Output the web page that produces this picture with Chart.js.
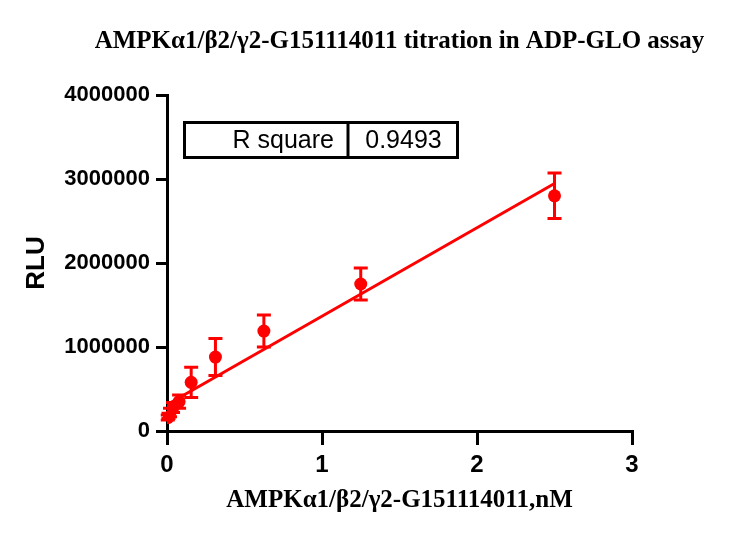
<!DOCTYPE html>
<html>
<head>
<meta charset="utf-8">
<script src="https://cdn.jsdelivr.net/npm/chart.js@4.4.0/dist/chart.umd.min.js"></script>
<style>
  html, body { margin: 0; padding: 0; background: #fff; }
  #wrap { width: 732px; height: 547px; }
</style>
</head>
<body>
<div id="wrap"><canvas id="chart"></canvas></div>
<script>
// concentration (nM), mean RLU and SD
let conc = [2.5, 1.25, 0.625, 0.3125, 0.156, 0.078, 0.039, 0.0195, 0.0098, 0.0049]
let rlu = [2800000, 1750000, 1190000, 880000, 580000, 350000, 280000, 220000, 180000, 160000]
let sd = [270000, 190000, 190000, 220000, 180000, 80000, 60000, 50000, 30000, 30000]

let xTicks = [0, 1, 2, 3]
let yTicks = [0, 1000000, 2000000, 3000000, 4000000]
let rSquare = "0.9493"
let titleText = "AMPKα1/β2/γ2-G151114011 titration in ADP-GLO assay"

let red = "#ff0000"

// simple least squares fit for the line
function linFit(xs, ys) {
    let n = xs.length
    let mx = xs.reduce((a, b) => a + b, 0) / n
    let my = ys.reduce((a, b) => a + b, 0) / n
    let sxy = 0, sxx = 0
    for (let i = 0; i < n; i++) {
        sxy += (xs[i] - mx) * (ys[i] - my)
        sxx += (xs[i] - mx) * (xs[i] - mx)
    }
    let slope = sxy / sxx
    return { slope: slope, icpt: my - slope * mx }
}

let fit = linFit(conc, rlu)
let xMin = Math.min(...conc)
let xMax = Math.max(...conc)
let fitLine = [
    { x: xMin, y: fit.icpt + fit.slope * xMin },
    { x: xMax, y: fit.icpt + fit.slope * xMax }
]

let points = conc.map((c, i) => ({ x: c, y: rlu[i] }))

let errorBars = {
    id: "errorBars",
    afterDatasetsDraw(chart) {
        let ctx = chart.ctx
        let xs = chart.scales.x
        let ys = chart.scales.y
        ctx.save()
        ctx.strokeStyle = red
        ctx.lineWidth = 3
        for (let i = 0; i < conc.length; i++) {
            let px = xs.getPixelForValue(conc[i])
            let top = ys.getPixelForValue(rlu[i] + sd[i])
            let bot = ys.getPixelForValue(rlu[i] - sd[i])
            ctx.beginPath()
            ctx.moveTo(px, top)
            ctx.lineTo(px, bot)
            ctx.moveTo(px - 7, top)
            ctx.lineTo(px + 7, top)
            ctx.moveTo(px - 7, bot)
            ctx.lineTo(px + 7, bot)
            ctx.stroke()
        }
        ctx.restore()
    }
}

// title drawn by hand so it is not squeezed to the plot width
let topTitle = {
    id: "topTitle",
    afterDraw(chart) {
        let ctx = chart.ctx
        let a = chart.chartArea
        ctx.save()
        ctx.fillStyle = "#000"
        ctx.font = "bold 25px 'Liberation Serif', 'Times New Roman', serif"
        ctx.textAlign = "center"
        ctx.textBaseline = "middle"
        ctx.fillText(titleText, (a.left + a.right) / 2, 42)
        ctx.restore()
    }
}

let rBox = {
    id: "rBox",
    afterDraw(chart) {
        let ctx = chart.ctx
        let a = chart.chartArea
        let left = a.left + 16
        let top = a.top + 26
        let w = 276, h = 38, split = 165
        ctx.save()
        ctx.strokeStyle = "#000"
        ctx.lineWidth = 3
        ctx.strokeRect(left + 1.5, top + 1.5, w - 3, h - 3)
        ctx.beginPath()
        ctx.moveTo(left + split, top)
        ctx.lineTo(left + split, top + h)
        ctx.stroke()
        ctx.fillStyle = "#000"
        ctx.font = "25px 'Liberation Sans', Arial, sans-serif"
        ctx.textBaseline = "middle"
        ctx.textAlign = "right"
        ctx.fillText("R square", left + split - 14, top + h / 2 + 1)
        ctx.textAlign = "center"
        ctx.fillText(rSquare, left + split + (w - split) / 2, top + h / 2 + 1)
        ctx.restore()
    }
}

let chart = new Chart(document.getElementById("chart"), {
    type: "scatter",
    data: {
        datasets: [{
            data: points,
            backgroundColor: red,
            borderWidth: 0,
            pointRadius: 6.5,
            pointHoverRadius: 6.5
        }, {
            type: "line",
            data: fitLine,
            borderColor: red,
            borderWidth: 3,
            pointRadius: 0,
            fill: false
        }]
    },
    options: {
        responsive: true,
        maintainAspectRatio: false,
        animation: false,
        layout: { padding: { left: 0, right: 100, top: 95, bottom: 0 } },
        plugins: {
            legend: { display: false },
            tooltip: { enabled: false },
            title: { display: false }
        },
        scales: {
            x: {
                type: "linear",
                min: 0,
                max: 3,
                afterFit(scale) { scale.height = 116 },
                afterBuildTicks(scale) { scale.ticks = xTicks.map(v => ({ value: v })) },
                ticks: {
                    color: "#000",
                    padding: 6,
                    font: { family: "'Liberation Sans', Arial, sans-serif", size: 24, weight: "bold" }
                },
                grid: { display: true, drawOnChartArea: false, drawTicks: true, tickLength: 14, lineWidth: 3, color: "#000" },
                border: { display: true, width: 3, color: "#000" },
                title: {
                    display: true,
                    text: "AMPKα1/β2/γ2-G151114011,nM",
                    color: "#000",
                    font: { family: "'Liberation Serif', 'Times New Roman', serif", size: 25, weight: "bold" },
                    padding: { top: 0, bottom: 31 }
                }
            },
            y: {
                type: "linear",
                min: 0,
                max: 4000000,
                afterFit(scale) { scale.width = 167 },
                afterBuildTicks(scale) { scale.ticks = yTicks.map(v => ({ value: v })) },
                ticks: {
                    color: "#000",
                    padding: 6,
                    callback: v => String(v),
                    font: { family: "'Liberation Sans', Arial, sans-serif", size: 22, weight: "bold" }
                },
                grid: { display: true, drawOnChartArea: false, drawTicks: true, tickLength: 11, lineWidth: 3, color: "#000" },
                border: { display: true, width: 3, color: "#000" },
                title: {
                    display: true,
                    text: "RLU",
                    color: "#000",
                    font: { family: "'Liberation Sans', Arial, sans-serif", size: 26, weight: "bold" },
                    padding: { top: 21, bottom: 0 }
                }
            }
        }
    },
    plugins: [errorBars, topTitle, rBox]
})
</script>
</body>
</html>
